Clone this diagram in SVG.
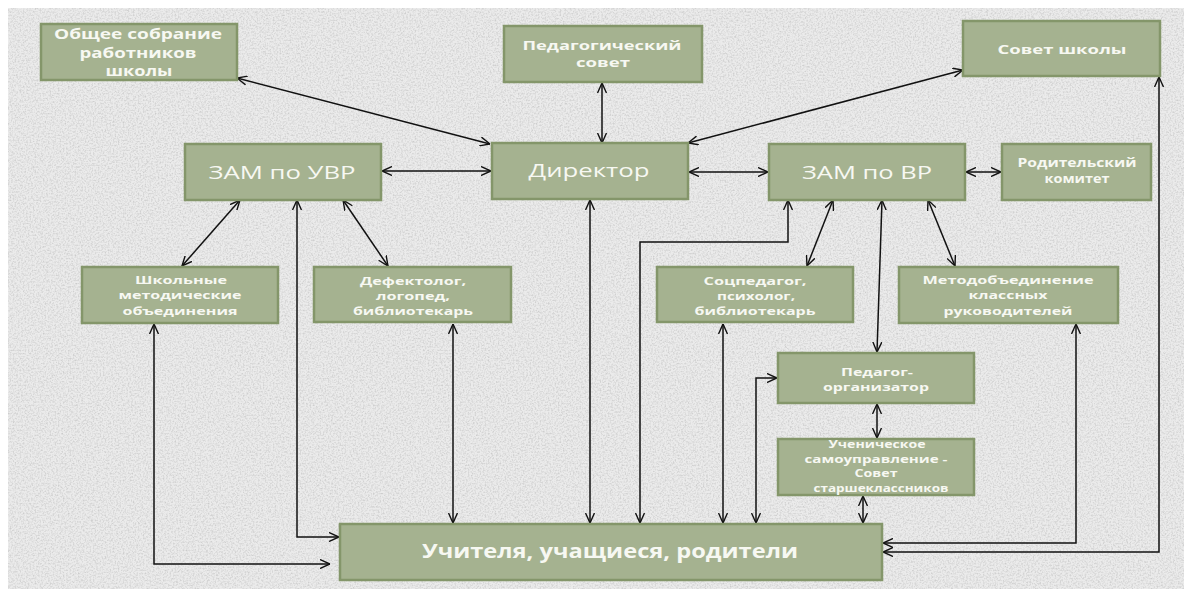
<svg xmlns="http://www.w3.org/2000/svg" width="1184" height="589" viewBox="0 0 1184 589">
<defs>
<filter id="noise" x="0" y="0" width="100%" height="100%">
<feTurbulence type="fractalNoise" baseFrequency="0.6" numOctaves="3" seed="7"/>
<feColorMatrix type="matrix" values="0 0 0 0 0.55  0 0 0 0 0.55  0 0 0 0 0.55  0 0 0 1.6 -0.65"/>
</filter>
<marker id="ah" viewBox="0 0 10 10" refX="10" refY="5" markerWidth="10" markerHeight="10" markerUnits="userSpaceOnUse" orient="auto-start-reverse">
<path d="M0,0.5 L10,5 L0,9.5" fill="none" stroke="#111" stroke-width="1.4"/>
</marker>
<style>
.box{fill:#a5b290;stroke:#84966a;stroke-width:2.5}
.t{font-family:"Open Sans","Liberation Sans",sans-serif;font-weight:bold;fill:#f7f8f2;text-anchor:middle}
.big{font-family:"Open Sans","Liberation Sans",sans-serif;font-weight:normal;fill:#f7f8f2;text-anchor:middle;font-size:19px}
.c{fill:none;stroke:#111;stroke-width:1.5;marker-start:url(#ah);marker-end:url(#ah)}
</style>
</defs>
<rect x="0" y="0" width="1184" height="589" fill="#ffffff"/>
<rect x="8" y="8" width="1176" height="581" fill="#ebebeb"/>
<rect x="8" y="8" width="1176" height="581" filter="url(#noise)"/>

<g id="connectors">
<line class="c" x1="237" y1="78" x2="490" y2="144"/>
<line class="c" x1="602" y1="83" x2="602" y2="143"/>
<line class="c" x1="963" y1="70" x2="688" y2="143"/>
<line class="c" x1="382" y1="171" x2="491" y2="171"/>
<line class="c" x1="689" y1="172" x2="768" y2="172"/>
<line class="c" x1="966" y1="172" x2="1001" y2="172"/>
<line class="c" x1="240" y1="200" x2="182" y2="266"/>
<line class="c" x1="343" y1="200" x2="388" y2="266"/>
<polyline class="c" points="297,200 297,537 339,537"/>
<polyline class="c" points="154,324 154,564 330,564"/>
<line class="c" x1="453" y1="324" x2="453" y2="523"/>
<line class="c" x1="590" y1="200" x2="590" y2="523"/>
<polyline class="c" points="788,200 788,242 640,242 640,523"/>
<line class="c" x1="723" y1="324" x2="723" y2="523"/>
<polyline class="c" points="756,523 756,378 777,378"/>
<line class="c" x1="833" y1="200" x2="807" y2="266"/>
<line class="c" x1="882" y1="200" x2="877" y2="352"/>
<line class="c" x1="928" y1="200" x2="955" y2="266"/>
<line class="c" x1="877" y1="404" x2="877" y2="438"/>
<line class="c" x1="863" y1="496" x2="863" y2="523"/>
<polyline class="c" points="1076,324 1076,543 883,543"/>
<polyline class="c" points="1159,77 1159,552 883,552"/>
</g>

<g id="obshee">
<rect class="box" x="41" y="24" width="196" height="56"/>
<text class="t" font-size="13.5"><tspan x="138" y="39" textLength="168" lengthAdjust="spacingAndGlyphs">Общее собрание</tspan><tspan x="138" y="58" textLength="117" lengthAdjust="spacingAndGlyphs">работников</tspan><tspan x="139" y="76" textLength="67" lengthAdjust="spacingAndGlyphs">школы</tspan></text>
</g>
<g id="pedsovet">
<rect class="box" x="504" y="26" width="198" height="56"/>
<text class="t" font-size="12.5"><tspan x="602" y="50" textLength="159" lengthAdjust="spacingAndGlyphs">Педагогический</tspan><tspan x="603" y="67" textLength="54" lengthAdjust="spacingAndGlyphs">совет</tspan></text>
</g>
<g id="sovet">
<rect class="box" x="963" y="21" width="197" height="55"/>
<text class="t" font-size="13"><tspan x="1062" y="54" textLength="129" lengthAdjust="spacingAndGlyphs">Совет школы</tspan></text>
</g>
<g id="zamuvr">
<rect class="box" x="185" y="144" width="196" height="56"/>
<text class="big" x="282" y="179" textLength="147" lengthAdjust="spacingAndGlyphs">ЗАМ по УВР</text>
</g>
<g id="direktor">
<rect class="box" x="492" y="143" width="196" height="56"/>
<text class="big" x="589" y="177" textLength="121" lengthAdjust="spacingAndGlyphs">Директор</text>
</g>
<g id="zamvr">
<rect class="box" x="769" y="144" width="196" height="56"/>
<text class="big" x="867" y="179" textLength="130" lengthAdjust="spacingAndGlyphs">ЗАМ по ВР</text>
</g>
<g id="rodkom">
<rect class="box" x="1002" y="144" width="149" height="56"/>
<text class="t" font-size="11.5"><tspan x="1077" y="167" textLength="119" lengthAdjust="spacingAndGlyphs">Родительский</tspan><tspan x="1077" y="183" textLength="65" lengthAdjust="spacingAndGlyphs">комитет</tspan></text>
</g>
<g id="shmo">
<rect class="box" x="82" y="267" width="196" height="56"/>
<text class="t" font-size="11"><tspan x="181" y="284" textLength="92" lengthAdjust="spacingAndGlyphs">Школьные</tspan><tspan x="180" y="299" textLength="123" lengthAdjust="spacingAndGlyphs">методические</tspan><tspan x="180" y="314.5" textLength="115" lengthAdjust="spacingAndGlyphs">объединения</tspan></text>
</g>
<g id="defektolog">
<rect class="box" x="314" y="267" width="197" height="55"/>
<text class="t" font-size="11"><tspan x="413" y="285" textLength="106" lengthAdjust="spacingAndGlyphs">Дефектолог,</tspan><tspan x="413" y="300" textLength="74" lengthAdjust="spacingAndGlyphs">логопед,</tspan><tspan x="413" y="315" textLength="120" lengthAdjust="spacingAndGlyphs">библиотекарь</tspan></text>
</g>
<g id="socped">
<rect class="box" x="657" y="267" width="196" height="55"/>
<text class="t" font-size="11"><tspan x="755" y="285" textLength="103" lengthAdjust="spacingAndGlyphs">Соцпедагог,</tspan><tspan x="756" y="300" textLength="78" lengthAdjust="spacingAndGlyphs">психолог,</tspan><tspan x="755" y="315" textLength="121" lengthAdjust="spacingAndGlyphs">библиотекарь</tspan></text>
</g>
<g id="metod">
<rect class="box" x="899" y="267" width="219" height="56"/>
<text class="t" font-size="11"><tspan x="1008" y="284" textLength="171" lengthAdjust="spacingAndGlyphs">Методобъединение</tspan><tspan x="1008" y="299" textLength="79" lengthAdjust="spacingAndGlyphs">классных</tspan><tspan x="1008" y="314.5" textLength="129" lengthAdjust="spacingAndGlyphs">руководителей</tspan></text>
</g>
<g id="pedorg">
<rect class="box" x="778" y="353" width="196" height="50"/>
<text class="t" font-size="11"><tspan x="877" y="376" textLength="72" lengthAdjust="spacingAndGlyphs">Педагог-</tspan><tspan x="876" y="391" textLength="106" lengthAdjust="spacingAndGlyphs">организатор</tspan></text>
</g>
<g id="uchen">
<rect class="box" x="778" y="439" width="196" height="56"/>
<text class="t" font-size="10.5"><tspan x="877" y="448" textLength="97" lengthAdjust="spacingAndGlyphs">Ученическое</tspan><tspan x="876" y="462.5" textLength="143" lengthAdjust="spacingAndGlyphs">самоуправление -</tspan><tspan x="876" y="477" textLength="43" lengthAdjust="spacingAndGlyphs">Совет</tspan><tspan x="881" y="491.5" textLength="135" lengthAdjust="spacingAndGlyphs">старшеклассников</tspan></text>
</g>
<g id="uchitelya">
<rect class="box" x="340" y="524" width="542" height="56"/>
<text class="t" font-size="19" x="610" y="558" textLength="376" lengthAdjust="spacingAndGlyphs">Учителя, учащиеся, родители</text>
</g>
</svg>
